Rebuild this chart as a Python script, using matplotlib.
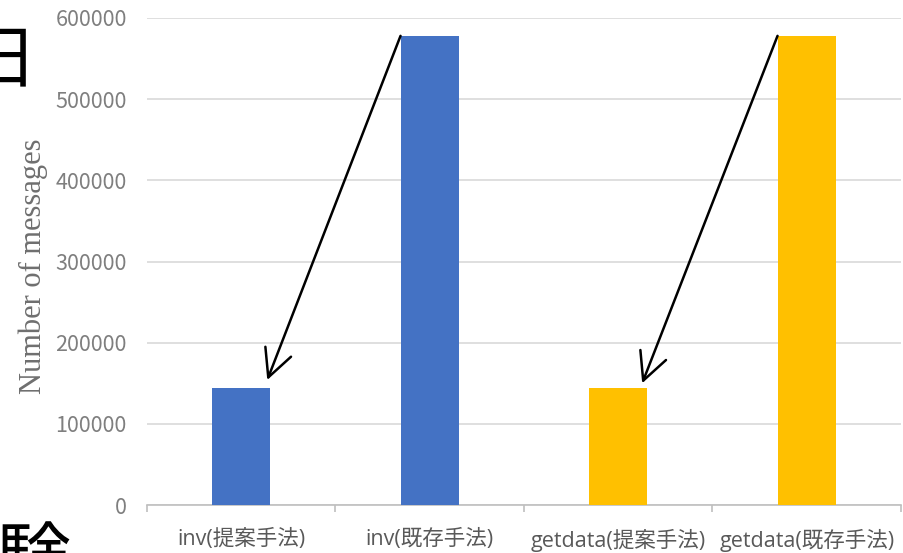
import matplotlib.pyplot as plt

plt.rcParams['font.family'] = ['Noto Sans CJK JP', 'DejaVu Sans']

categories = ["inv(提案手法)", "inv(既存手法)", "getdata(提案手法)", "getdata(既存手法)"]
messages = [144000, 578000, 144000, 578000]
colors = ["#4472C4", "#4472C4", "#FFC000", "#FFC000"]
yticks = [0, 100000, 200000, 300000, 400000, 500000, 600000]

# arrows from the existing method down to the proposed one: (x0, y0) -> (x1, y1)
arrows = [((0.845, 578000), (0.138, 154000)),
          ((2.845, 578000), (2.127, 150000))]

fig = plt.figure(figsize=(9.04, 5.53), dpi=100)
ax = fig.add_axes([147 / 904, 1 - 505 / 553, 754 / 904, (505 - 18) / 553])

x = range(len(categories))
ax.bar(x, messages, width=0.31, color=colors, zorder=3)

ax.set_xlim(-0.5, 3.5)
ax.set_ylim(0, 600000)
ax.set_yticks(yticks)
ax.set_yticklabels([str(v) for v in yticks])
ax.set_xticks(list(x))
ax.set_xticklabels(categories, family=['Open Sans', 'Noto Sans CJK JP'])
ax.set_xticks([-0.5, 0.5, 1.5, 2.5, 3.5], minor=True)

ax.grid(axis='y', color='#d9d9d9', linewidth=1.2, zorder=0)
for side in ('top', 'right', 'left'):
    ax.spines[side].set_visible(False)
ax.spines['bottom'].set_color('#bfbfbf')
ax.spines['bottom'].set_linewidth(1.2)

ax.tick_params(axis='y', length=0, pad=14.5, labelsize=15.5, labelcolor='#7f7f7f')
ax.tick_params(axis='x', which='major', length=0, pad=17, labelsize=15.5,
               labelcolor='#595959')
ax.tick_params(axis='x', which='minor', length=5, color='#bfbfbf', width=1.2)

ax.set_ylabel("Number of messages", family='Liberation Serif', fontsize=22,
              color='#6f6f6f')
ax.yaxis.set_label_coords(-0.131, 0.49)

for (x0, y0), (x1, y1) in arrows:
    ax.annotate("", xy=(x1, y1), xytext=(x0, y0),
                arrowprops=dict(arrowstyle='->, head_length=0.9, head_width=0.45',
                                mutation_scale=22, lw=1.8, color='black',
                                shrinkA=0, shrinkB=0), zorder=5)

# slide title characters cut off at the left edge
fig.text(-32 / 904, 1 - 62 / 553, "日", fontsize=50, color='black',
         ha='left', va='center')
fig.text(-4 / 904, 1 - 524 / 553, "験", fontsize=54, color='black',
         ha='left', va='top')

fig.savefig("out.png", dpi=100)
